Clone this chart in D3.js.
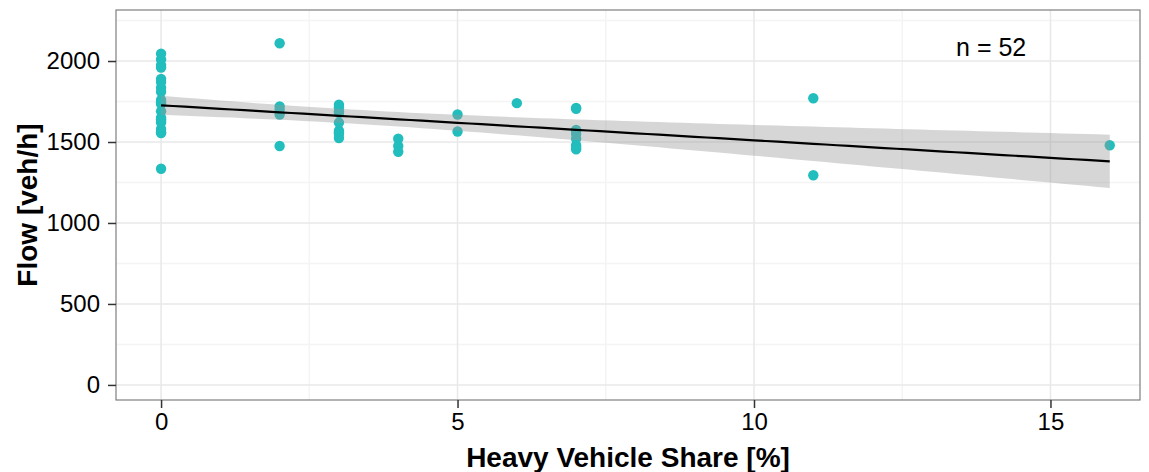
<!DOCTYPE html>
<html>
<head>
<meta charset="utf-8">
<script src="https://cdn.jsdelivr.net/npm/d3@7"></script>
<style>
  body { margin: 0; background: #fff; }
  svg { display: block; font-family: "Liberation Sans", Arial, sans-serif; }
</style>
</head>
<body>
<svg id="chart" width="1149" height="472"></svg>
<script>
// heavy vehicle share [%] and observed flow [veh/h], one entry per site
const share = [
  0, 0, 0, 0, 0, 0, 0, 0, 0, 0, 0, 0, 0, 0, 0, 0, 0, 0, 0, 0,
  2, 2, 2, 2, 2,
  3, 3, 3, 3, 3, 3, 3, 3, 3,
  4, 4, 4,
  5, 5,
  6,
  7, 7, 7, 7, 7, 7, 7, 7, 7,
  11, 11,
  16
];
const flow = [
  2045, 2010, 1975, 1960, 1890, 1870, 1835, 1810, 1760, 1745, 1735, 1690, 1650, 1630, 1580, 1560, 1555, 1335, 1620, 1640,
  2110, 1720, 1700, 1670, 1475,
  1730, 1715, 1690, 1680, 1620, 1570, 1560, 1550, 1525,
  1520, 1475, 1440,
  1670, 1565,
  1740,
  1710, 1705, 1575, 1570, 1550, 1520, 1480, 1465, 1455,
  1770, 1295,
  1480
];
const xTicks = [0, 5, 10, 15];
const yTicks = [0, 500, 1000, 1500, 2000];
const xMinor = [2.5, 7.5, 12.5];
const yMinor = [250, 750, 1250, 1750, 2250];
const note = "n = 52";

const svg = d3.select('#chart');
const m = { left: 116, top: 10, right: 1140, bottom: 400 };

const x = d3.scaleLinear().domain([-0.76, 16.51]).range([m.left, m.right]);
const y = d3.scaleLinear().domain([-93, 2315]).range([m.bottom, m.top]);

// grid
const grid = svg.append('g');
grid.selectAll('line.xmin').data(xMinor).enter().append('line')
  .attr('x1', d => x(d)).attr('x2', d => x(d)).attr('y1', m.top).attr('y2', m.bottom)
  .attr('stroke', '#f4f4f4').attr('stroke-width', 1.5);
grid.selectAll('line.ymin').data(yMinor).enter().append('line')
  .attr('y1', d => y(d)).attr('y2', d => y(d)).attr('x1', m.left).attr('x2', m.right)
  .attr('stroke', '#f4f4f4').attr('stroke-width', 1.5);
grid.selectAll('line.xmaj').data(xTicks).enter().append('line')
  .attr('x1', d => x(d)).attr('x2', d => x(d)).attr('y1', m.top).attr('y2', m.bottom)
  .attr('stroke', '#e8e8e8').attr('stroke-width', 1.5);
grid.selectAll('line.ymaj').data(yTicks).enter().append('line')
  .attr('y1', d => y(d)).attr('y2', d => y(d)).attr('x1', m.left).attr('x2', m.right)
  .attr('stroke', '#e8e8e8').attr('stroke-width', 1.5);

// points
const pts = share.map((s, i) => ({ s, f: flow[i] }));
svg.append('g').selectAll('circle').data(pts).enter().append('circle')
  .attr('cx', d => x(d.s)).attr('cy', d => y(d.f)).attr('r', 5.2)
  .attr('fill', '#22bdbd');

// linear fit with 95% confidence band
const n = pts.length;
const mx = d3.mean(share), my = d3.mean(flow);
const sxx = d3.sum(share, v => (v - mx) ** 2);
const sxy = d3.sum(pts, d => (d.s - mx) * (d.f - my));
const b = sxy / sxx, a = my - b * mx;
const sse = d3.sum(pts, d => (d.f - (a + b * d.s)) ** 2);
const se = Math.sqrt(sse / (n - 2));
const tcrit = 2.009;
const xs = d3.range(0, 81).map(i => d3.min(share) + i * (d3.max(share) - d3.min(share)) / 80);
const band = xs.map(v => {
  const fit = a + b * v;
  const h = tcrit * se * Math.sqrt(1 / n + (v - mx) ** 2 / sxx);
  return { v, fit, lo: fit - h, hi: fit + h };
});
svg.append('path').datum(band)
  .attr('d', d3.area().x(d => x(d.v)).y0(d => y(d.lo)).y1(d => y(d.hi)))
  .attr('fill', '#999').attr('fill-opacity', 0.4);
svg.append('path').datum(band)
  .attr('d', d3.line().x(d => x(d.v)).y(d => y(d.fit)))
  .attr('fill', 'none').attr('stroke', '#000').attr('stroke-width', 2.2);

// panel border
svg.append('rect').attr('x', m.left).attr('y', m.top)
  .attr('width', m.right - m.left).attr('height', m.bottom - m.top)
  .attr('fill', 'none').attr('stroke', '#7f7f7f').attr('stroke-width', 1.2);

// axes
const xAxis = svg.append('g').attr('transform', `translate(0,${m.bottom})`)
  .call(d3.axisBottom(x).tickValues(xTicks).tickSize(8).tickPadding(5).tickFormat(d3.format('d')));
const yAxis = svg.append('g').attr('transform', `translate(${m.left},0)`)
  .call(d3.axisLeft(y).tickValues(yTicks).tickSize(8).tickPadding(8).tickFormat(d3.format('d')));
[xAxis, yAxis].forEach(g => {
  g.select('.domain').remove();
  g.selectAll('.tick line').attr('stroke', '#333').attr('stroke-width', 1.5);
  g.selectAll('.tick text').attr('fill', '#000').attr('font-size', 24)
    .attr('font-family', '"Liberation Sans", Arial, sans-serif');
});

svg.append('text').attr('x', (m.left + m.right) / 2).attr('y', 467)
  .attr('text-anchor', 'middle').attr('font-size', 28).attr('font-weight', 'bold')
  .text('Heavy Vehicle Share [%]');
svg.append('text').attr('transform', `translate(37,${(m.top + m.bottom) / 2}) rotate(-90)`)
  .attr('text-anchor', 'middle').attr('font-size', 28).attr('font-weight', 'bold')
  .text('Flow [veh/h]');

svg.append('text').attr('x', x(14)).attr('y', y(2030))
  .attr('text-anchor', 'middle').attr('font-size', 25).text(note);
</script>
</body>
</html>
